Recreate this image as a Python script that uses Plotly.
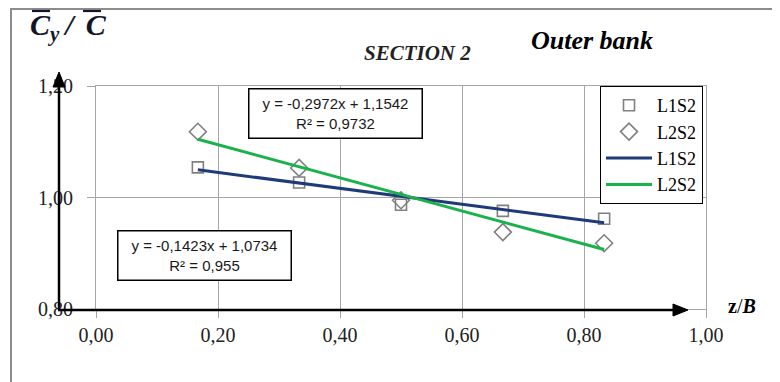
import plotly.graph_objects as go

# ---- data ----
x_pos = [0.167, 0.333, 0.500, 0.667, 0.833]
l1s2 = [1.054, 1.027, 0.987, 0.976, 0.962]
l2s2 = [1.118, 1.053, 0.995, 0.938, 0.918]
series_names = ["L1S2", "L2S2"]
trend_slope = [-0.1423, -0.2972]
trend_intercept = [1.0734, 1.1542]
trend_r2 = ["0,955", "0,9732"]
x_ticks = [0.0, 0.2, 0.4, 0.6, 0.8, 1.0]
x_tick_labels = ["0,00", "0,20", "0,40", "0,60", "0,80", "1,00"]
y_ticks = [0.8, 1.0, 1.2]
y_tick_labels = ["0,80", "1,00", "1,20"]

# ---- layout geometry (screen pixels; page body has an 8px margin) ----
OFF = 8
W, H = 780 - OFF, 382 - OFF
L, R, T, B = 96, 706, 86, 309   # plot area in screen pixels


def px(x):
    return (x - L) / (R - L)


def py(y):
    return (B - y) / (B - T)


SERIF = "Liberation Serif, Times New Roman, serif"
SANS = "Liberation Sans, Arial, sans-serif"
GRID = "#a6a6a6"
MARK = "#808080"
NAVY = "#1f3a78"
GREEN = "#19b24b"
INK = "#141428"

fig = go.Figure()

fig.add_trace(go.Scatter(
    x=x_pos, y=l1s2, mode="markers", name=series_names[0],
    marker=dict(symbol="square-open", size=11, color=MARK, line=dict(width=1.6, color=MARK)),
))
fig.add_trace(go.Scatter(
    x=x_pos, y=l2s2, mode="markers", name=series_names[1],
    marker=dict(symbol="diamond-open", size=13, color=MARK, line=dict(width=1.6, color=MARK)),
))

line_colors = [NAVY, GREEN]
for i in range(2):
    xs = [x_pos[0], x_pos[-1]]
    ys = [trend_slope[i] * v + trend_intercept[i] for v in xs]
    fig.add_trace(go.Scatter(
        x=xs, y=ys, mode="lines", name=series_names[i],
        line=dict(color=line_colors[i], width=3),
    ))


def fmt(v, n):
    return f"{v:.{n}f}".replace(".", ",")


annotations = []
# trendline equation boxes
eq_boxes = [
    (1, (248 + 423) / 2, (89 + 138) / 2),
    (0, (117 + 291) / 2, (230 + 280) / 2),
]
for i, cx, cy in eq_boxes:
    txt = (f"y = {fmt(trend_slope[i], 4)}x + {fmt(trend_intercept[i], 4)}"
           f"<br>R² = {trend_r2[i]}")
    annotations.append(dict(
        x=px(cx), y=py(cy), xref="paper", yref="paper", text=txt, showarrow=False,
        xanchor="center", yanchor="middle", align="center",
        width=166, height=42,
        font=dict(family=SANS, size=15, color="#1a1a1a"),
        bgcolor="white", bordercolor="black", borderwidth=1.5, borderpad=3,
    ))

# titles
annotations.append(dict(
    x=px(417), y=py(53), xref="paper", yref="paper", text="<b><i>SECTION 2</i></b>",
    showarrow=False, xanchor="center", yanchor="middle",
    font=dict(family=SERIF, size=21, color="#222222"),
))
annotations.append(dict(
    x=px(592), y=py(40), xref="paper", yref="paper", text="<b><i>Outer bank</i></b>",
    showarrow=False, xanchor="center", yanchor="middle",
    font=dict(family=SERIF, size=26, color="black"),
))
# axis titles
annotations.append(dict(
    x=px(28), y=py(27), xref="paper", yref="paper",
    text="<b><i>C<sub>y</sub>\u2009/\u2009\u2009C</i></b>",
    showarrow=False, xanchor="left", yanchor="middle",
    font=dict(family=SERIF, size=30, color=INK),
))
annotations.append(dict(
    x=px(726), y=py(306), xref="paper", yref="paper",
    text="<b>z</b>/<b><i>B</i></b>",
    showarrow=False, xanchor="left", yanchor="middle",
    font=dict(family=SERIF, size=20, color="black"),
))


def tri(p1, p2, p3):
    pts = [p1, p2, p3]
    return "M " + " L ".join(f"{px(a)},{py(b)}" for a, b in pts) + " Z"


shapes = [
    # outer frame
    dict(type="rect", xref="paper", yref="paper",
         x0=px(11), y0=py(9), x1=px(800), y1=py(400),
         line=dict(color="#8c8c8c", width=2), fillcolor="rgba(0,0,0,0)", layer="below"),
    # overlines for the y title
    dict(type="line", xref="paper", yref="paper", x0=px(32), x1=px(50), y0=py(11), y1=py(11),
         line=dict(color=INK, width=2.2)),
    dict(type="line", xref="paper", yref="paper", x0=px(83), x1=px(101), y0=py(11), y1=py(11),
         line=dict(color=INK, width=2.2)),
    # axis arrows
    dict(type="line", xref="paper", yref="paper", x0=px(59), x1=px(59), y0=py(310), y1=py(84),
         line=dict(color="black", width=2.5)),
    dict(type="path", xref="paper", yref="paper", path=tri((59, 72), (53, 87), (65, 87)),
         fillcolor="black", line=dict(color="black", width=1)),
    dict(type="line", xref="paper", yref="paper", x0=px(58), x1=px(676), y0=py(310), y1=py(310),
         line=dict(color="black", width=2.5)),
    dict(type="path", xref="paper", yref="paper", path=tri((688, 310), (673, 304), (673, 316)),
         fillcolor="black", line=dict(color="black", width=1)),
]

fig.update_layout(
    width=W, height=H,
    margin=dict(l=L - OFF, r=W - (R - OFF), t=T - OFF, b=H - (B - OFF), pad=0),
    paper_bgcolor="white", plot_bgcolor="white",
    showlegend=True,
    legend=dict(
        x=px(703), y=py(86), xref="paper", yref="paper", xanchor="right", yanchor="top",
        bgcolor="white", bordercolor="black", borderwidth=1,
        font=dict(family=SERIF, size=18, color="black"),
        tracegroupgap=0, itemwidth=46,
    ),
    xaxis=dict(
        range=[0, 1], tickvals=x_ticks, ticktext=x_tick_labels,
        showgrid=True, gridcolor=GRID, gridwidth=1, zeroline=False,
        showline=True, linecolor=GRID, linewidth=1, mirror=True,
        ticks="outside", ticklen=8, tickcolor=GRID, ticklabelstandoff=0,
        tickfont=dict(family=SERIF, size=20, color="#222222"),
    ),
    yaxis=dict(
        range=[0.8, 1.2], tickvals=y_ticks, ticktext=y_tick_labels,
        showgrid=True, gridcolor=GRID, gridwidth=1, zeroline=False,
        showline=True, linecolor=GRID, linewidth=1, mirror=True,
        ticks="outside", ticklen=8, tickcolor=GRID, ticklabelstandoff=10,
        tickfont=dict(family=SERIF, size=20, color="#222222"),
    ),
    annotations=annotations,
    shapes=shapes,
)

fig.write_html("out.html")
